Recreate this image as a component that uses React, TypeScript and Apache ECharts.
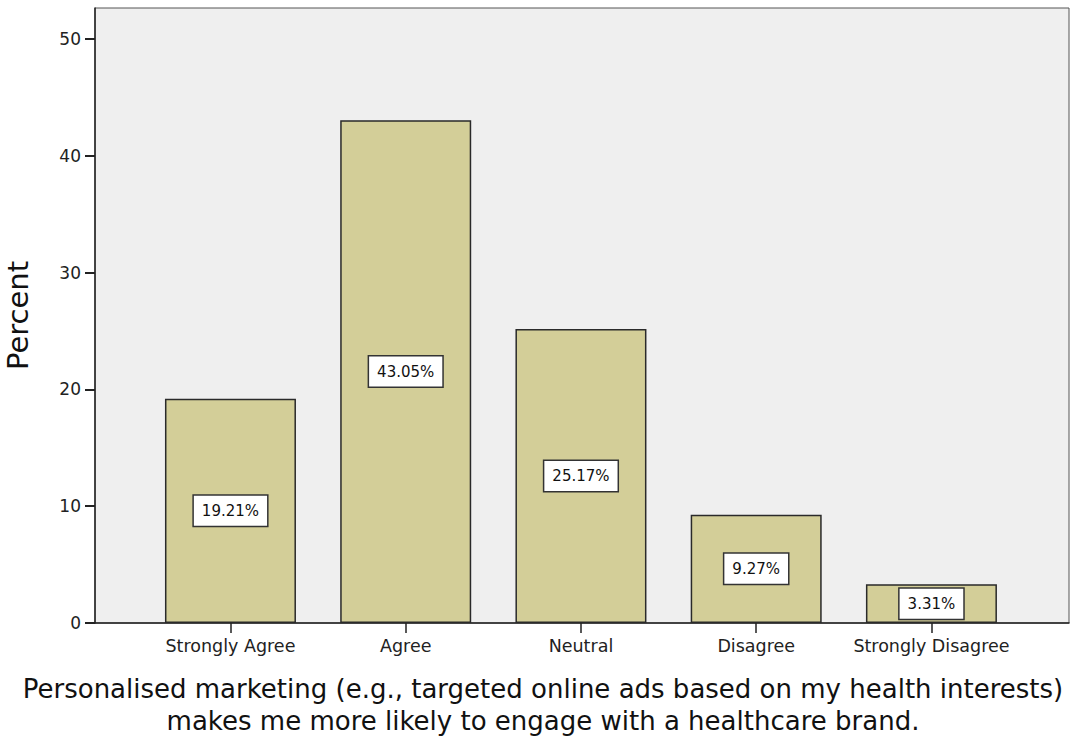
import React, { useEffect, useRef } from "react";
import * as echarts from "echarts";

const categories = ["Strongly Agree", "Agree", "Neutral", "Disagree", "Strongly Disagree"];
const percents = [19.21, 43.05, 25.17, 9.27, 3.31];
const yTicks = [0, 10, 20, 30, 40, 50];
const xTitle = "Personalised marketing (e.g., targeted online ads based on my health interests)\nmakes me more likely to engage with a healthcare brand.";
const yTitle = "Percent";

const FONT = "'DejaVu Sans', 'Noto Sans', sans-serif";

export default function App() {
  const ref = useRef<HTMLDivElement>(null);
  useEffect(() => {
    if (!ref.current) return;
    const chart = echarts.init(ref.current, null, { renderer: "svg" });
    const idx = categories.map((_, i) => i);
    chart.setOption({
      animation: false,
      backgroundColor: "#ffffff",
      textStyle: { fontFamily: FONT },
      title: {
        text: xTitle,
        left: 543,
        top: 673,
        textAlign: "center",
        padding: 0,
        textStyle: {
          fontSize: 26,
          fontWeight: "normal",
          color: "#111",
          lineHeight: 32,
          fontFamily: FONT,
          align: "center",
        },
      },
      grid: {
        left: 95,
        top: 8,
        width: 974,
        height: 615,
        outerBoundsMode: "none",
        containLabel: false,
        show: true,
        backgroundColor: "#efefef",
        borderColor: "#555555",
        borderWidth: 1,
      },
      xAxis: {
        type: "value",
        min: -0.773,
        max: 4.785,
        splitLine: { show: false },
        axisLine: { show: true, onZero: false, lineStyle: { color: "#222", width: 1.5 } },
        axisTick: { show: true, length: 10, customValues: idx, lineStyle: { color: "#222", width: 1.5 } },
        axisLabel: {
          customValues: idx,
          formatter: (v: number) => categories[Math.round(v)] ?? "",
          color: "#222",
          fontSize: 17.5,
          margin: 14,
          fontFamily: FONT,
        },
      },
      yAxis: {
        type: "value",
        min: 0,
        max: 52.66,
        splitLine: { show: false },
        axisLine: { show: true, onZero: false, lineStyle: { color: "#222", width: 1.5 } },
        axisTick: { show: true, length: 10, customValues: yTicks, lineStyle: { color: "#222", width: 2 } },
        axisLabel: {
          customValues: yTicks,
          color: "#222",
          fontSize: 17,
          margin: 14,
          fontFamily: FONT,
        },
        name: yTitle,
        nameLocation: "middle",
        nameGap: 63,
        nameTextStyle: { fontSize: 29, color: "#111", fontFamily: FONT },
      },
      series: [
        {
          type: "bar",
          data: percents.map((v, i) => [i, v]),
          barWidth: 131,
          itemStyle: { color: "#d3ce98", borderColor: "#2a2a2a", borderWidth: 1.5 },
          label: {
            show: true,
            position: "inside",
            formatter: (p: any) => `${p.value[1].toFixed(2)}%`,
            color: "#111",
            fontSize: 15,
            fontFamily: FONT,
            backgroundColor: "#ffffff",
            borderColor: "#333",
            borderWidth: 1.5,
            padding: [8, 8, 7, 8],
          },
        },
      ],
    });
    return () => chart.dispose();
  }, []);
  return (
    <div
      ref={ref}
      style={{ position: "absolute", left: 0, top: 0, width: 1076, height: 744 }}
    />
  );
}
